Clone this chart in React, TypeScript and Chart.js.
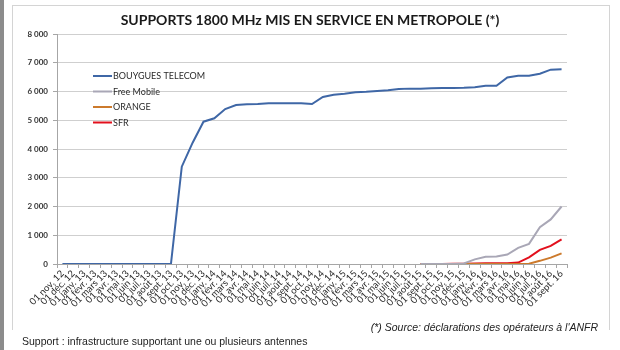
import React, { useEffect, useRef } from 'react';
import { Chart, registerables } from 'chart.js';

Chart.register(...registerables);

const categories = [
  '01 nov. 12', '01 déc. 12',
  '01 janv. 13', '01 févr. 13', '01 mars 13', '01 avr. 13', '01 mai 13', '01 juin 13',
  '01 juil. 13', '01 août 13', '01 sept. 13', '01 oct. 13', '01 nov. 13', '01 déc. 13',
  '01 janv. 14', '01 févr. 14', '01 mars 14', '01 avr. 14', '01 mai 14', '01 juin 14',
  '01 juil. 14', '01 août 14', '01 sept. 14', '01 oct. 14', '01 nov. 14', '01 déc. 14',
  '01 janv. 15', '01 févr. 15', '01 mars 15', '01 avr. 15', '01 mai 15', '01 juin 15',
  '01 juil. 15', '01 août 15', '01 sept. 15', '01 oct. 15', '01 nov. 15', '01 déc. 15',
  '01 janv. 16', '01 févr. 16', '01 mars 16', '01 avr. 16', '01 mai 16', '01 juin 16',
  '01 juil. 16', '01 août 16', '01 sept. 16',
];

const bouygues = [
  0, 0, 0, 0, 0, 0, 0, 0, 0, 0, 0,
  3385, 4220, 4950, 5070, 5390, 5530, 5555, 5565, 5590, 5590, 5590, 5590,
  5565, 5810, 5890, 5925, 5970, 5990, 6020, 6040, 6090, 6100, 6100, 6110,
  6120, 6120, 6130, 6150, 6200, 6200, 6490, 6550, 6550, 6620, 6760, 6770,
];

const freeMobile = [
  null, null, null, null, null, null, null, null, null, null, null,
  null, null, null, null, null, null, null, null, null, null, null,
  null, null, null, null, null, null, null, null, null, null, null,
  0, 0, 0, 0, 20, 160, 250, 260, 330, 560, 700, 1280, 1550, 2000,
];

const orange = [
  null, null, null, null, null, null, null, null, null, null, null,
  null, null, null, null, null, null, null, null, null, null, null,
  null, null, null, null, null, null, null, null, null, null, null,
  0, 0, 0, 0, 0, 0, 0, 0, 0, 0, 10, 110, 220, 370,
];

const sfr = [
  null, null, null, null, null, null, null, null, null, null, null,
  null, null, null, null, null, null, null, null, null, null, null,
  null, null, null, null, null, null, null, null, null, null, null,
  0, 0, 0, 5, 10, 20, 30, 30, 30, 50, 230, 490, 630, 860,
];

const seriesNames = ['BOUYGUES TELECOM', 'Free Mobile', 'ORANGE', 'SFR'];
const seriesColors = ['#3f67a6', '#a9a7b6', '#cc7a2c', '#e2101d'];

const yMin = 0;
const yMax = 8000;
const yStep = 1000;

const titleText = 'SUPPORTS 1800 MHz MIS EN SERVICE EN METROPOLE (*)';
const sourceText = "(*) Source: déclarations des opérateurs à l'ANFR";
const supportText = 'Support : infrastructure supportant une ou plusieurs antennes';

const FONT = 'Lato, "Noto Sans", sans-serif';

function fmt(v: number) {
  return String(v).replace(/\B(?=(\d{3})+(?!\d))/g, ' ');
}

export default function App() {
  const ref = useRef<HTMLCanvasElement>(null);

  useEffect(() => {
    if (!ref.current) return;
    const legendPlugin = {
      id: 'insideLegend',
      afterDraw(chart: any) {
        const ctx = chart.ctx;
        ctx.save();
        const x0 = 93;
        const x1 = 112;
        const top = 76;
        const step = 15.5;
        chart.data.datasets.forEach((ds: any, i: number) => {
          const y = top + i * step;
          ctx.strokeStyle = ds.borderColor;
          ctx.lineWidth = 2;
          ctx.beginPath();
          ctx.moveTo(x0, y);
          ctx.lineTo(x1, y);
          ctx.stroke();
          ctx.fillStyle = '#2b2b2b';
          ctx.font = `9px ${FONT}`;
          ctx.textBaseline = 'middle';
          ctx.textAlign = 'left';
          ctx.fillText(ds.label, x1 + 1, y + 0.5);
        });
        ctx.restore();
      },
    };

    const series = [bouygues, freeMobile, orange, sfr];
    const chart = new Chart(ref.current, {
      type: 'line',
      data: {
        labels: categories,
        datasets: series.map((d, i) => ({
          label: seriesNames[i],
          data: d,
          borderColor: seriesColors[i],
          backgroundColor: seriesColors[i],
          borderWidth: 2,
          pointRadius: 0,
          tension: 0,
          spanGaps: false,
        })),
      },
      options: {
        responsive: false,
        animation: false,
        devicePixelRatio: 1,
        layout: { padding: { left: 12, right: 53, top: 34, bottom: 36 } },
        plugins: {
          legend: { display: false },
          title: { display: false },
          tooltip: { enabled: false },
        },
        scales: {
          x: {
            type: 'category',
            offset: true,
            afterFit: (s: any) => { s.height = 50; },
            grid: {
              offset: true,
              drawOnChartArea: false,
              drawTicks: true,
              tickLength: 4,
              color: '#a6a6a6',
            },
            border: { display: true, color: '#a6a6a6', width: 1 },
            ticks: {
              autoSkip: false,
              minRotation: 45,
              maxRotation: 45,
              padding: 0,
              color: '#2b2b2b',
              font: { family: FONT, size: 9.5 },
            },
          },
          y: {
            min: yMin,
            max: yMax,
            afterFit: (s: any) => { s.width = 45; },
            ticks: {
              stepSize: yStep,
              padding: 5,
              color: '#333333',
              font: { family: FONT, size: 8, weight: 'bold' },
              callback: (v: any) => fmt(Number(v)),
            },
            grid: {
              color: '#cfcfcf',
              borderDash: [2, 2],
              tickLength: 4,
              tickColor: '#a6a6a6',
              tickBorderDash: [],
            } as any,
            border: { display: true, color: '#a6a6a6', width: 1 } as any,
          },
        },
      },
      plugins: [legendPlugin],
    } as any);
    return () => chart.destroy();
  }, []);

  return (
    <div style={{ position: 'fixed', left: 0, top: 0, width: 620, height: 350, background: '#ffffff', overflow: 'hidden' }}>
      <div style={{ position: 'absolute', left: 0, top: 0, width: 4, height: 350, background: '#8c8c8c' }} />
      <div style={{ position: 'absolute', left: 12, top: 5, width: 596, height: 324, borderTop: '1px solid #d4d4d4', borderLeft: '1px solid #d4d4d4', borderRight: '1px solid #d4d4d4' }} />
      <canvas ref={ref} width={620} height={350} style={{ position: 'absolute', left: 0, top: 0, width: 620, height: 350 }} />
      <div style={{ position: 'absolute', left: 0, top: 10, width: 620, textAlign: 'center', fontFamily: FONT, fontWeight: 700, fontSize: 14, lineHeight: '20px', color: '#1a1a1a', whiteSpace: 'nowrap' }}>
        {titleText}
      </div>
      <div style={{ position: 'absolute', right: 22, top: 320, fontFamily: '"Liberation Sans", Arial, sans-serif', fontStyle: 'italic', fontSize: 10.5, lineHeight: '14px', color: '#222', whiteSpace: 'nowrap' }}>
        {sourceText}
      </div>
      <div style={{ position: 'absolute', left: 22, top: 334, fontFamily: '"Liberation Sans", Arial, sans-serif', fontSize: 10.5, lineHeight: '14px', color: '#222', whiteSpace: 'nowrap' }}>
        {supportText}
      </div>
    </div>
  );
}
